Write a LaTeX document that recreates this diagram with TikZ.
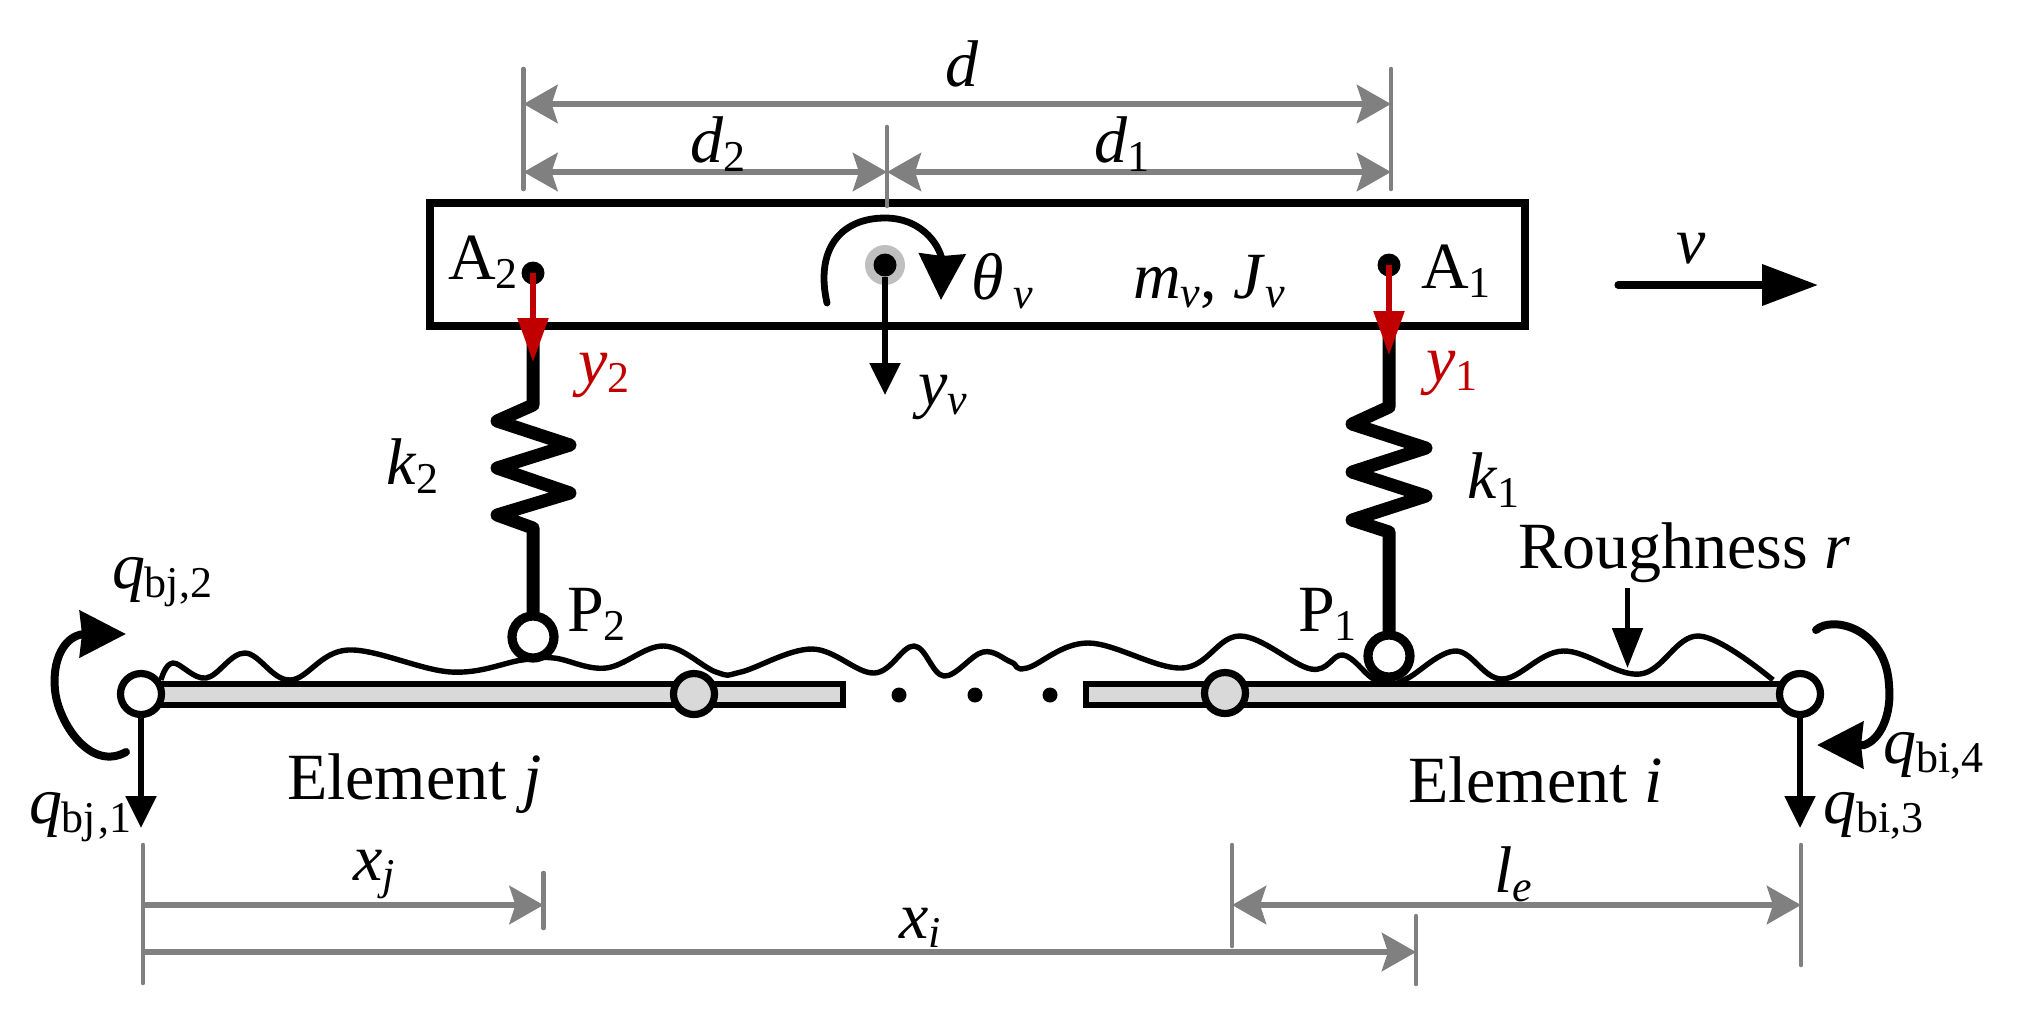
\documentclass[tikz,border=0pt]{standalone}
\usepackage{fontspec}
\setmainfont{Liberation Serif}
\usetikzlibrary{arrows.meta}
\definecolor{dimgray}{HTML}{808080}
\definecolor{redc}{HTML}{C00000}
\definecolor{beamfill}{HTML}{D9D9D9}
\definecolor{ringgray}{HTML}{BFBFBF}
\newcommand\low[1]{\raisebox{-4.5pt}{\fontsize{22}{22}\selectfont #1}}
\tikzset{
  lbl/.style={anchor=base west,inner sep=0pt,outer sep=0pt,font=\fontsize{33}{33}\selectfont},
  dimtip/.tip={Stealth[length=17pt,width=19pt,inset=3pt]},
  dimline/.style={draw=dimgray,line width=3.2pt},
  dimtick/.style={draw=dimgray,line width=2.3pt,line cap=round},
  blktip/.tip={Stealth[length=16pt,width=15pt,inset=0pt]},
  redtip/.tip={Stealth[length=22pt,width=15pt,inset=0pt]},
  force/.style={draw=black,line width=2.6pt,-{blktip}},
  redarrow/.style={draw=redc,line width=2.8pt,-{redtip}},
  springline/.style={draw=black,line width=6.5pt,line join=round},
  contact/.style={circle,draw=black,fill=white,line width=4.6pt,minimum size=21pt,inner sep=0pt},
  endhinge/.style={circle,draw=black,fill=white,line width=3.6pt,minimum size=20.5pt,inner sep=0pt},
  midhinge/.style={circle,draw=black,fill=beamfill,line width=3.6pt,minimum size=20.5pt,inner sep=0pt},
  beam/.style={draw=black,fill=beamfill,line width=2.8pt},
  dotmark/.style={circle,fill=black,inner sep=0pt,minimum size=11.5pt},
  smalldot/.style={circle,fill=black,inner sep=0pt,minimum size=7.5pt},
  bigtip/.tip={Stealth[length=23pt,width=23pt,inset=1pt]},
  curvearrow/.style={draw=black,line width=4pt,line cap=round,-{bigtip}},
}
\begin{document}
\begin{tikzpicture}[x=0.5pt,y=-0.5pt]
\useasboundingbox (0,0) rectangle (2023,1030);
% vehicle
\node[draw=black,line width=4pt,minimum width=547.5pt,minimum height=61.5pt,inner sep=0pt,outer sep=0pt,anchor=north west] (veh) at (430,203) {};
% dimensions top
\coordinate (dL) at (523.5,104); \coordinate (dR) at (1391,104);
\coordinate (d2L) at (523.5,172); \coordinate (dM) at (887,172); \coordinate (d1R) at (1391,172);
\draw[dimtick] (523.5,69) -- (523.5,189);
\draw[dimtick] (1391,69) -- (1391,189);
\draw[dimtick] (887,127) -- (887,206);
\draw[dimline,{dimtip}-{dimtip}] (dL) -- (dR);
\draw[dimline,{dimtip}-{dimtip}] (d2L) -- (dM);
\draw[dimline,{dimtip}-{dimtip}] (dM) -- (d1R);
% roughness
\draw[black,line width=2.7pt,line join=round] plot[smooth,tension=0.62] coordinates {
(161,680) (173,663) (206,678) (245,653) (290,680) (348,650) (451,672) (522,660) (554,658) (606,668) (664,646) (716,672) (741,672) (812,649) (874,673) (914,646) (944,676) (983,652) (1011,662) (1027,668) (1088,643) (1182,668) (1240,636) (1311,669) (1343,655) (1372,678) (1390,684) (1408,678) (1456,651) (1502,679) (1563,651) (1640,674) (1699,636) (1773,680)};
% beams
\draw[beam] (143,684) rectangle (843,705);
\draw[beam] (1086,684) rectangle (1800,705);
\node[midhinge] (hj) at (694,694) {};
\node[midhinge] (hi) at (1225,693) {};
\node[endhinge] (hL) at (141,694) {};
\node[endhinge] (hR) at (1800,694) {};
\node[smalldot] (e1) at (899,695) {};
\node[smalldot] (e2) at (975,695) {};
\node[smalldot] (e3) at (1050,695) {};
% contact points and springs
\coordinate (s2) at (533,327);
\coordinate (s1) at (1389,327);
\draw[springline] (s2) -- (533,405) -- (497,421) -- (570,445) -- (497,468) -- (570,493) -- (497,515) -- (533,528) -- (533,612);
\draw[springline] (s1) -- (1389,407) -- (1352,424) -- (1426,448) -- (1352,472) -- (1426,496) -- (1352,520) -- (1389,532) -- (1389,631);
\node[contact] (P2) at (533,637) {};
\node[contact] (P1) at (1389,656) {};
% body points
\node[circle,fill=ringgray,inner sep=0pt,minimum size=20pt] (cgring) at (885,265) {};
\node[dotmark] (cg) at (885,265) {};
\node[dotmark] (A2) at (533,273) {};
\node[dotmark] (A1) at (1389,265) {};
\coordinate (y2end) at (533,362);
\coordinate (y1end) at (1389,355);
\draw[redarrow] (A2.center) -- (y2end);
\draw[redarrow] (A1.center) -- (y1end);
\coordinate (yvend) at (885,395);
\draw[force] (cg) -- (yvend);
% rotation theta
\draw[draw=black,line width=3.4pt,line cap=round,-{bigtip}] (827,303) .. controls (815,250) and (840,218) .. (885,218) .. controls (925,218) and (942,250) .. (942,262) -- (941,300);
% v arrow
\coordinate (v0) at (1618,285); \coordinate (v1) at (1818,285);
\draw[draw=black,line width=3.6pt,line cap=round,-{Stealth[length=28pt,width=20pt,inset=0pt]}] (v0) -- (v1);
% forces at ends
\coordinate (q1end) at (141,828); \coordinate (q3end) at (1800,828);
\draw[force] (hL) -- (q1end);
\draw[force] (hR) -- (q3end);
\coordinate (rA) at (1627.5,588); \coordinate (rB) at (1627.5,668);
\draw[force,-{Stealth[length=20pt,width=15pt,inset=0pt]}] (rA) -- (rB);
\draw[curvearrow] (126,752) .. controls (90,772) and (58,722) .. (55,690) .. controls (52,660) and (64,636) .. (84,634) -- (126,634);
\draw[curvearrow] (1816,630) .. controls (1832,615) and (1886,628) .. (1889,685) .. controls (1892,715) and (1880,740) .. (1864,745) -- (1817,745);
% bottom dimensions
\draw[dimtick] (143,845) -- (143,983);
\draw[dimtick] (543.5,873) -- (543.5,928);
\draw[dimtick] (1416,916) -- (1416,984);
\draw[dimtick] (1232,845) -- (1232,946);
\draw[dimtick] (1801,845) -- (1801,965);
\coordinate (xjA) at (143,905); \coordinate (xjB) at (543.5,905);
\coordinate (xiA) at (143,952); \coordinate (xiB) at (1416,952);
\coordinate (leA) at (1232,905); \coordinate (leB) at (1801,905);
\draw[dimline,-{dimtip}] (xjA) -- (xjB);
\draw[dimline,-{dimtip}] (xiA) -- (xiB);
\draw[dimline,{dimtip}-{dimtip}] (leA) -- (leB);
% labels
\node[lbl] (td) at (945,86) {\textit{d}};
\node[lbl] (td2) at (690,162) {\textit{d}\low{2}};
\node[lbl] (td1) at (1094,162) {\textit{d}\low{1}};
\node[lbl] (tA2) at (448,279) {A\low{2}};
\node[lbl] (tA1) at (1421,288) {A\low{1}};
\node[lbl] (tth) at (971,299) {\textit{θ}\hspace{5pt}\low{\textit{v}}};
\node[lbl] (tm) at (1133,298) {\textit{m}\low{\textit{v}}, \textit{J}\low{\textit{v}}};
\node[lbl] (tv) at (1676,263) {\textit{v}};
\node[lbl,text=redc] (ty2) at (578,383) {\textit{y}\low{2}};
\node[lbl,text=redc] (ty1) at (1426,381) {\textit{y}\low{1}};
\node[lbl] (tyv) at (918,405) {\textit{y}\low{\textit{v}}};
\node[lbl] (tk2) at (386,484) {\textit{k}\low{2}};
\node[lbl] (tk1) at (1467,498) {\textit{k}\low{1}};
\node[lbl] (tP2) at (567,631) {P\low{2}};
\node[lbl] (tP1) at (1298,631) {P\low{1}};
\node[lbl] (trough) at (1518,568) {Roughness \textit{r}};
\node[lbl] (tq2) at (112,588) {\textit{q}\low{bj,2}};
\node[lbl] (tq1) at (29,823) {\textit{q}\low{bj\hspace{1pt},1}};
\node[lbl] (tq4) at (1883,763) {\textit{q}\low{bi,4}};
\node[lbl] (tq3) at (1823,823) {\textit{q}\low{bi,3}};
\node[lbl] (tej) at (287,799) {Element \textit{j}};
\node[lbl] (tei) at (1408,802) {Element \textit{i}};
\node[lbl] (txj) at (353,880) {\textit{x}\low{\textit{j}}};
\node[lbl] (txi) at (899,938) {\textit{x}\low{\textit{i}}};
\node[lbl] (tle) at (1494,892) {\textit{l}\low{\textit{e}}};
\end{tikzpicture}
\end{document}
